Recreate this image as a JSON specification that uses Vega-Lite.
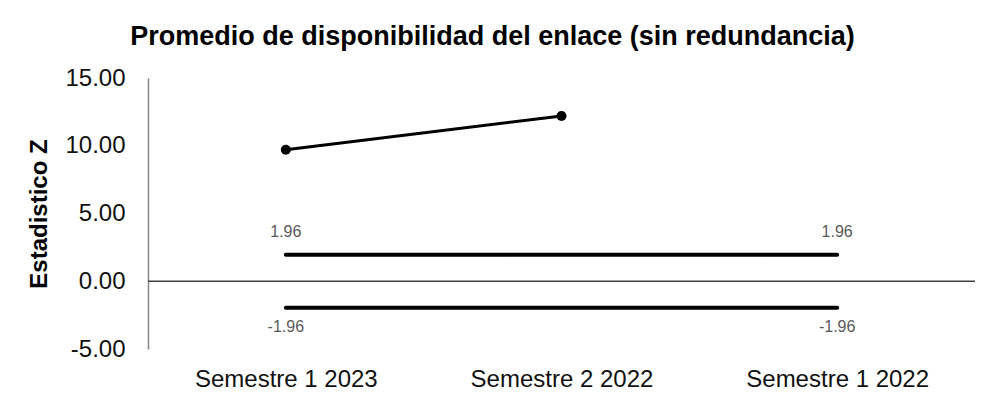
{
  "$schema": "https://vega.github.io/schema/vega-lite/v6.json",
  "autosize": {"type": "none"},
  "width": 827,
  "height": 271,
  "padding": {"left": 148, "top": 78, "right": 10, "bottom": 63},
  "background": "white",
  "config": {
    "font": "Liberation Sans",
    "view": {"stroke": null},
    "locale": {
      "number": {"decimal": ".", "thousands": ",", "grouping": [3], "currency": ["$", ""], "minus": "-"}
    }
  },
  "title": {
    "text": "Promedio de disponibilidad del enlace (sin redundancia)",
    "font": "Liberation Sans",
    "fontSize": 27,
    "fontWeight": "bold",
    "color": "#000000",
    "anchor": "middle",
    "frame": "group",
    "dx": -69,
    "offset": 15
  },
  "data": {
    "values": [
      {"cat": "Semestre 1 2023", "serie": "Z", "valor": 9.7},
      {"cat": "Semestre 2 2022", "serie": "Z", "valor": 12.2},
      {"cat": "Semestre 1 2023", "serie": "Sup", "valor": 1.96},
      {"cat": "Semestre 1 2022", "serie": "Sup", "valor": 1.96},
      {"cat": "Semestre 1 2023", "serie": "Inf", "valor": -1.96},
      {"cat": "Semestre 1 2022", "serie": "Inf", "valor": -1.96},
      {"cat": "Semestre 1 2023", "serie": "Cero", "valor": 0}
    ]
  },
  "encoding": {
    "x": {
      "field": "cat",
      "type": "ordinal",
      "scale": {"type": "point", "domain": ["Semestre 1 2023", "Semestre 2 2022", "Semestre 1 2022"], "padding": 0.5},
      "axis": {"title": null, "domain": false, "ticks": false, "labelAngle": 0, "labelFontSize": 24, "labelColor": "#111111", "labelPadding": 18, "labelFont": "Liberation Sans", "labelLimit": 400, "labelOverlap": false}
    },
    "y": {
      "field": "valor",
      "type": "quantitative",
      "scale": {"domain": [-5, 15], "nice": false, "zero": false},
      "axis": {"title": "Estadistico Z", "titleFontSize": 24, "titleFontWeight": "bold", "titleColor": "#000000", "titlePadding": 13, "values": [-5, 0, 5, 10, 15], "format": ".2f", "grid": false, "ticks": false, "domainColor": "#868686", "domainWidth": 1.5, "labelFontSize": 24, "labelColor": "#111111", "labelPadding": 23}
    }
  },
  "layer": [
    {
      "transform": [{"filter": "datum.serie === 'Cero'"}],
      "mark": {"type": "rule", "color": "#404040", "strokeWidth": 1.5},
      "encoding": {"x": null}
    },
    {
      "transform": [{"filter": "datum.serie === 'Sup' || datum.serie === 'Inf'"}],
      "mark": {"type": "line", "color": "#000000", "strokeWidth": 4, "strokeCap": "round"},
      "encoding": {"detail": {"field": "serie"}}
    },
    {
      "transform": [{"filter": "datum.serie === 'Z'"}],
      "mark": {"type": "line", "color": "#000000", "strokeWidth": 3, "point": {"filled": true, "color": "#000000", "size": 100}}
    },
    {
      "transform": [{"filter": "datum.serie === 'Sup'"}],
      "mark": {"type": "text", "dy": -23, "fontSize": 16, "color": "#595959"},
      "encoding": {"text": {"field": "valor", "format": ".2f"}}
    },
    {
      "transform": [{"filter": "datum.serie === 'Inf'"}],
      "mark": {"type": "text", "dy": 19, "fontSize": 16, "color": "#595959"},
      "encoding": {"text": {"field": "valor", "format": ".2f"}}
    }
  ]
}
